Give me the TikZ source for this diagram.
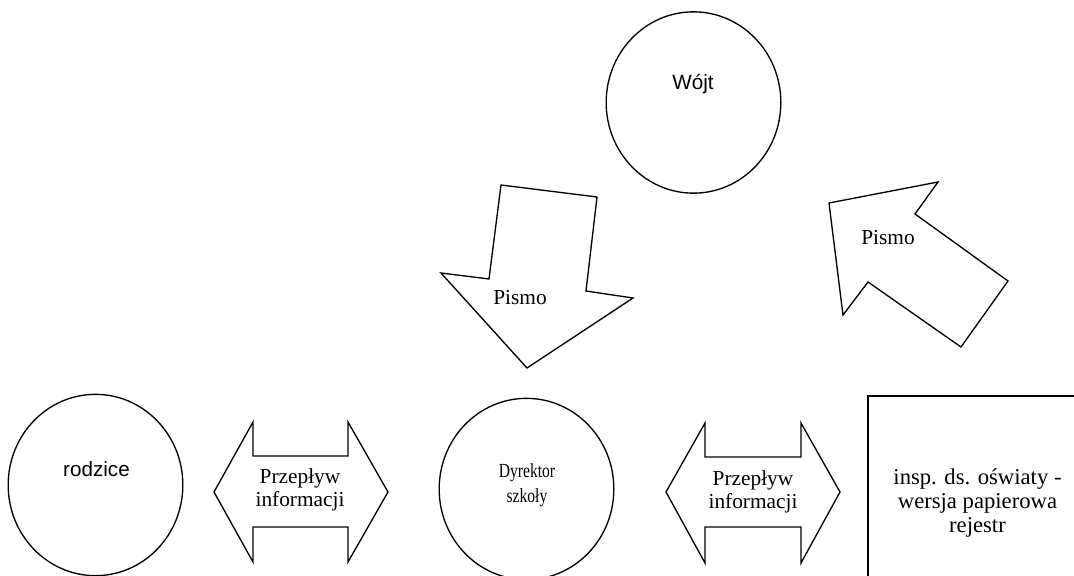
\documentclass[tikz,border=0pt]{standalone}
\usepackage{fontspec}
\setmainfont{Liberation Serif}
\newfontfamily\arialfont{Liberation Sans}
\usetikzlibrary{shapes.geometric}
\begin{document}
\begin{tikzpicture}[x=0.75pt,y=-0.75pt,
  outline/.style={draw=black, line width=1pt, line join=miter},
  roundel/.style={outline, ellipse, minimum width=131pt, minimum height=136pt, inner sep=0pt},
  seriflabel/.style={font=\fontsize{16}{17.3}\selectfont, align=center, inner sep=0pt},
  sanslabel/.style={font=\arialfont\fontsize{15.5}{17}\selectfont, inner sep=0pt},
  boxlabel/.style={font=\fontsize{17}{18}\selectfont, align=center, inner sep=0pt}]

% page frame
\clip (0,0) rectangle (1074,575);
\fill[white] (0,0) rectangle (1074,575);

% circles
\node[roundel] (wojt) at (693.5,102.5) {};
\node[sanslabel] (wojtlabel) at (693,84) {Wójt};

\node[roundel] (rodzice) at (95.5,485) {};
\node[sanslabel] (rodzicelabel) at (96.5,469) {rodzice};

\node[roundel] (dyrektor) at (526.5,489) {};
\node[seriflabel, font=\fontsize{15}{18.5}\selectfont] (dyrektorlabel) at (527,485)
  {\scalebox{0.78}[1]{Dyrektor}\\\scalebox{0.78}[1]{szkoły}};

% letter going down to the headmaster
\draw[outline] (501,185) -- (597,197) -- (586,291) -- (633,298) -- (527,368)
  -- (441,273) -- (489,279) -- cycle;
\node[seriflabel] (pismodown) at (520,298) {Pismo};

% letter going up to the mayor
\draw[outline] (829,203) -- (938,182) -- (915,214) -- (1008,281) -- (961,347)
  -- (868,282) -- (843,315) -- cycle;
\node[seriflabel] (pismoup) at (888,238) {Pismo};

% two-way information flows
\draw[outline] (214,492) -- (253,422) -- (253,456) -- (348,456) -- (348,422)
  -- (388,492) -- (348,562) -- (348,527) -- (253,527) -- (253,562) -- cycle;
\node[seriflabel] (flowleft) at (300,490) {Przepływ\\informacji};

\draw[outline] (666,492) -- (705,423) -- (705,457) -- (801,457) -- (801,423)
  -- (840,492) -- (801,563) -- (801,527) -- (705,527) -- (705,563) -- cycle;
\node[seriflabel] (flowright) at (753,492) {Przepływ\\informacji};

% inspector box, running past the page edge
\draw[outline, line width=1.4pt] (868,396) rectangle (1090,600);
\node[boxlabel] (insp) at (977.5,503) {insp. ds. oświaty -\\wersja papierowa\\rejestr};
\end{tikzpicture}
\end{document}
